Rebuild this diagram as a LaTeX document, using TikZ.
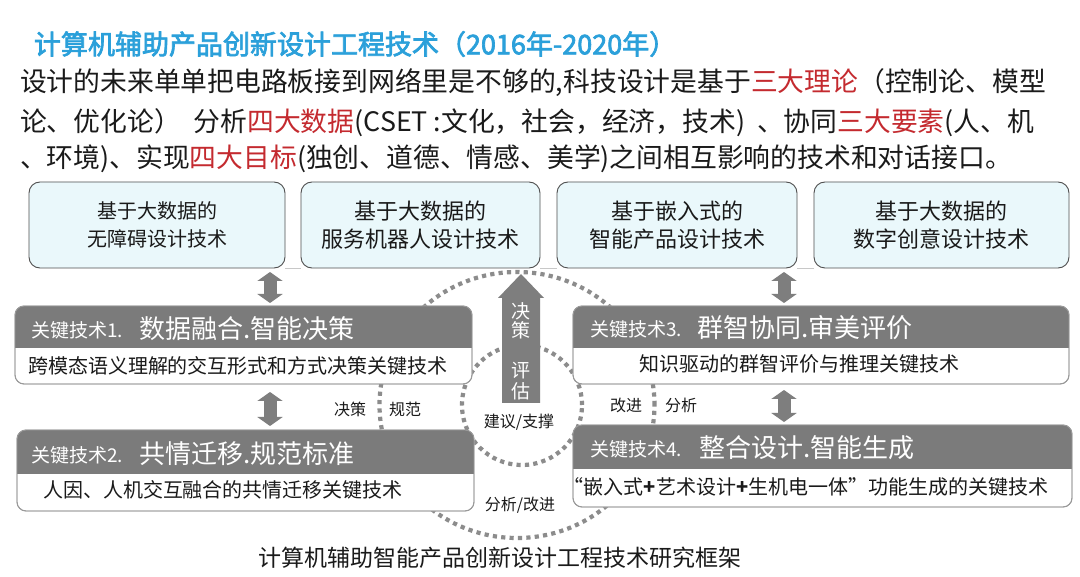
\documentclass[tikz,border=0pt]{standalone}
\usepackage{fontspec}
\setmainfont{Noto Sans CJK SC}
\newfontfamily\titlefont[FakeBold=2.6]{Noto Sans CJK SC}
\usetikzlibrary{arrows.meta}
\definecolor{titleblue}{HTML}{2BA0DA}
\definecolor{redtxt}{HTML}{C42A2F}
\definecolor{boxfill}{HTML}{EAF8FB}
\definecolor{boxline}{HTML}{4F4F4F}
\definecolor{hdrgray}{HTML}{7B7B7B}
\definecolor{ktline}{HTML}{9A9A9A}
\definecolor{arrgray}{HTML}{7E7E7E}
\definecolor{dotgray}{HTML}{8C8C8C}
\definecolor{faint}{HTML}{C8C8C8}
\definecolor{txtblack}{HTML}{1A1A1A}
\begin{document}
\begin{tikzpicture}[x=1pt,y=-1pt,
  every node/.style={inner sep=0pt, outer sep=0pt},
  topbox/.style={draw=boxline, fill=boxfill, rounded corners=11pt, line width=0.9pt, align=center, anchor=north west, text=txtblack},
  ktframe/.style={draw=ktline, fill=white, rounded corners=9pt, line width=0.9pt, anchor=north west},
  hdrsmall/.style={text=white, font=\fontsize{19}{19}\selectfont, anchor=west},
  hdrbig/.style={text=white, font=\fontsize{26}{26}\selectfont, anchor=west},
  bodytxt/.style={font=\fontsize{20}{20}\selectfont, text=txtblack},
  para/.style={font=\fontsize{26.8}{30}\selectfont, anchor=west, text=txtblack},
  lbl/.style={font=\fontsize{16}{16}\selectfont, text=txtblack},
  arrtxt/.style={font=\fontsize{19}{19}\selectfont, text=white},
  dotring/.style={draw=dotgray, line width=4.2pt, dash pattern=on 4.2pt off 4.2pt},
  dblarrow/.style={draw=arrgray, line width=13pt, {Triangle[width=25pt,length=9pt]}-{Triangle[width=25pt,length=9pt]}},
]
\useasboundingbox (0,0) rectangle (1080,577);
\fill[white] (0,0) rectangle (1080,577);

% title and paragraph
\node[anchor=west, text=titleblue, font=\titlefont\fontsize{27}{27}\selectfont] (ttl) at (34,44) {计算机辅助产品创新设计工程技术（2016年-2020年）};
\node[para] (p1) at (20,83) {设计的未来单单把电路板接到网络里是不够的,科技设计是基于\textcolor{redtxt}{三大理论}（控制论、模型};
\node[para] (p2) at (20,123) {论、优化论）\hspace{13pt}分析\textcolor{redtxt}{四大数据}(CSET :文化，社会，经济，技术) \hspace{6pt}、协同\textcolor{redtxt}{三大要素}(人、机};
\node[para] (p3) at (20,159) {、环境)、实现\textcolor{redtxt}{四大目标}(独创、道德、情感、美学)之间相互影响的技术和对话接口。};

% dotted rings (behind boxes)
\draw[dotring] (517,405) ellipse [x radius=137.5pt, y radius=133pt];
\draw[dotring] (522,405) circle [radius=60pt];

% top boxes
\node[topbox, minimum width=256pt, minimum height=86pt, font=\fontsize{20}{28}\selectfont] (b1) at (29,182) {基于大数据的\\无障碍设计技术};
\node[topbox, minimum width=239pt, minimum height=86pt, font=\fontsize{22}{28}\selectfont] (b2) at (301,182) {基于大数据的\\服务机器人设计技术};
\node[topbox, minimum width=240pt, minimum height=86pt, font=\fontsize{22}{28}\selectfont] (b3) at (557,182) {基于嵌入式的\\智能产品设计技术};
\node[topbox, minimum width=255pt, minimum height=86pt, font=\fontsize{22}{28}\selectfont] (b4) at (814,182) {基于大数据的\\数字创意设计技术};
\draw[faint, line width=0.8pt] (b1.south east) -- (b2.south west);
\draw[faint, line width=0.8pt] (b2.south east) -- (b3.south west);
\draw[faint, line width=0.8pt] (b3.south east) -- (b4.south west);

% key technology boxes
\node[ktframe, minimum width=457pt, minimum height=78pt] (k1) at (15,306) {};
\node[ktframe, minimum width=457pt, minimum height=81pt] (k2) at (17,430) {};
\node[ktframe, minimum width=496pt, minimum height=78pt] (k3) at (573,306) {};
\node[ktframe, minimum width=499pt, minimum height=82pt] (k4) at (573,425) {};
\foreach \k/\h in {k1/42,k2/44,k3/42,k4/44}{
  \begin{scope}
    \clip[rounded corners=9pt] (\k.north west) rectangle (\k.south east);
    \fill[hdrgray] (\k.north west) rectangle ([yshift=-\h pt]\k.north east);
  \end{scope}
  \draw[ktline, line width=0.9pt, rounded corners=9pt] (\k.north west) rectangle (\k.south east);
}
\node[hdrsmall] (k1s) at (31,330) {关键技术1.};
\node[hdrbig] (k1b) at (139,329) {数据融合.智能决策};
\node[bodytxt] (k1t) at (238,366) {跨模态语义理解的交互形式和方式决策关键技术};
\node[hdrsmall] (k2s) at (31,455) {关键技术2.};
\node[hdrbig] (k2b) at (139,454) {共情迁移.规范标准};
\node[bodytxt] (k2t) at (223,490) {人因、人机交互融合的共情迁移关键技术};
\node[hdrsmall] (k3s) at (590,329) {关键技术3.};
\node[hdrbig] (k3b) at (697,328) {群智协同.审美评价};
\node[bodytxt] (k3t) at (799,364) {知识驱动的群智评价与推理关键技术};
\node[hdrsmall] (k4s) at (590,449) {关键技术4.};
\node[hdrbig] (k4b) at (699,448) {整合设计.智能生成};
\node[bodytxt] (k4t) at (806,487) {“嵌入式\textbf{+}艺术设计\textbf{+}生机电一体”功能生成的关键技术};

% double arrows
\coordinate (ax1) at (270,0);
\coordinate (ax3) at (784,0);
\draw[dblarrow, shorten <=4pt, shorten >=3pt] (b1.south -| ax1) -- (k1.north -| ax1);
\draw[dblarrow, shorten <=8pt, shorten >=4pt] (k1.south -| ax1) -- (k2.north -| ax1);
\draw[dblarrow, shorten <=4pt, shorten >=3pt] (b3.south -| ax3) -- (k3.north -| ax3);
\draw[dblarrow, shorten <=6pt, shorten >=3pt] (k3.south -| ax3) -- (k4.north -| ax3);

% central block arrow
\fill[arrgray] (502,403) -- (502,298) -- (498,298) -- (521,274) -- (544,298) -- (540,298) -- (540,403) -- cycle;
\node[arrtxt] (c1) at (521,311) {决};
\node[arrtxt] (c2) at (521,330) {策};
\node[arrtxt] (c3) at (521,371) {评};
\node[arrtxt] (c4) at (521,391) {估};

% labels
\node[lbl] (l1) at (350,409) {决策};
\node[lbl] (l2) at (405,409) {规范};
\node[lbl] (l3) at (626,405) {改进};
\node[lbl] (l4) at (681,405) {分析};
\node[lbl] (l5) at (519,422) {建议/支撑};
\node[lbl] (l6) at (520,505) {分析/改进};

% caption
\node[font=\fontsize{23}{23}\selectfont, text=txtblack] (cap) at (500,558) {计算机辅助智能产品创新设计工程技术研究框架};
\end{tikzpicture}
\end{document}
